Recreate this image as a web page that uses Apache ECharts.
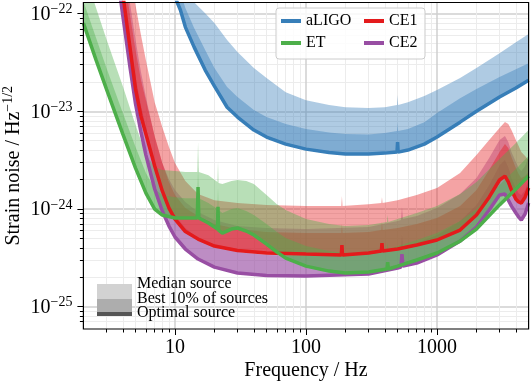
<!DOCTYPE html>
<html><head><meta charset="utf-8">
<script src="https://cdn.jsdelivr.net/npm/echarts@6/dist/echarts.min.js"></script>
<style>html,body{margin:0;padding:0;background:#fff}#c{width:532px;height:385px}</style>
</head><body><div id="c"></div>
<script>
const FONT = 'Liberation Serif';

// ---- data (frequency in Hz, strain noise in Hz^-1/2) ----
const aligoFreq = [9.5, 10, 11, 12, 14, 17, 20, 25, 30, 40, 50, 70, 100, 150, 200, 300, 400, 495, 500, 505, 600, 800, 1000, 1500, 2000, 3000, 4000, 5000];
const aligoOptimal = [1.96e-22, 1.48e-22, 1.09e-22, 7.28e-23, 4.54e-23, 2.64e-23, 1.81e-23, 1.10e-23, 8.72e-24, 6.43e-24, 5.45e-24, 4.61e-24, 4.10e-24, 3.78e-24, 3.65e-24, 3.65e-24, 3.73e-24, 3.82e-24, 4.84e-24, 3.82e-24, 4.01e-24, 4.61e-24, 5.45e-24, 7.74e-24, 1.00e-23, 1.40e-23, 1.73e-23, 2.08e-23];
const aligoBest10 = [3.53e-22, 2.48e-22, 1.66e-22, 1.14e-22, 7.11e-23, 4.23e-23, 2.77e-23, 1.77e-23, 1.40e-23, 1.03e-23, 8.73e-24, 7.40e-24, 6.58e-24, 6.06e-24, 5.85e-24, 5.78e-24, 5.98e-24, 6.27e-24, 7.6e-24, 6.27e-24, 6.58e-24, 7.74e-24, 9.59e-24, 1.36e-23, 1.69e-23, 2.24e-23, 2.70e-23, 3.11e-23];
const aligoMedian = [9.06e-22, 6.35e-22, 3.97e-22, 2.48e-22, 1.31e-22, 1.01e-22, 8.0e-23, 5.36e-23, 4.04e-23, 2.77e-23, 2.19e-23, 1.57e-23, 1.30e-23, 1.16e-23, 1.10e-23, 1.08e-23, 1.10e-23, 1.16e-23, 1.47e-23, 1.16e-23, 1.24e-23, 1.43e-23, 1.65e-23, 2.19e-23, 2.77e-23, 3.94e-23, 5.10e-23, 6.17e-23];

const etFreq = [2, 2.5, 3, 4, 5, 6, 7, 8, 10, 12, 14.8, 15, 15.2, 18, 21.1, 21.3, 21.5, 23, 27, 30, 35, 40, 50, 60, 70, 100, 150, 200, 300, 415, 420, 425, 500, 700, 1000, 1500, 2000, 3000, 4000, 5000];
const etOptimal = [8.0e-23, 3.34e-23, 1.69e-23, 5.84e-24, 2.62e-24, 1.45e-24, 9.98e-25, 8.66e-25, 8.07e-25, 8.07e-25, 8.07e-25, 1.68e-24, 8.07e-25, 7.17e-25, 6.23e-25, 1.05e-24, 6.08e-25, 5.67e-25, 6.23e-25, 6.38e-25, 5.94e-25, 5.41e-25, 4.37e-25, 3.62e-25, 3.14e-25, 2.60e-25, 2.31e-25, 2.21e-25, 2.26e-25, 2.43e-25, 2.86e-25, 2.43e-25, 2.60e-25, 3.00e-25, 3.54e-25, 4.69e-25, 6.23e-25, 1.10e-24, 1.60e-24, 2.17e-24];
const etBest10 = [1.34e-22, 5.62e-23, 2.77e-23, 9.58e-24, 4.30e-24, 2.33e-24, 1.60e-24, 1.39e-24, 1.32e-24, 1.29e-24, 1.29e-24, 2.69e-24, 1.29e-24, 1.15e-24, 9.98e-25, 1.68e-24, 9.75e-25, 9.08e-25, 9.98e-25, 1.02e-24, 9.52e-25, 8.66e-25, 7.01e-25, 5.80e-25, 5.04e-25, 4.17e-25, 3.71e-25, 3.54e-25, 3.62e-25, 3.89e-25, 4.59e-25, 3.89e-25, 4.17e-25, 4.81e-25, 5.67e-25, 7.52e-25, 9.98e-25, 1.76e-24, 2.56e-24, 3.48e-24];
const etMedian = [2.92e-22, 1.14e-22, 5.48e-23, 1.81e-23, 7.22e-24, 3.56e-24, 2.69e-24, 2.50e-24, 2.44e-24, 2.39e-24, 2.39e-24, 4.84e-24, 2.39e-24, 2.22e-24, 1.89e-24, 3.09e-24, 1.84e-24, 1.80e-24, 1.93e-24, 1.98e-24, 1.93e-24, 1.80e-24, 1.39e-24, 1.12e-24, 9.75e-25, 7.88e-25, 7.01e-25, 6.68e-25, 6.84e-25, 7.35e-25, 8.66e-25, 7.35e-25, 7.88e-25, 9.08e-25, 1.07e-24, 1.42e-24, 1.89e-24, 3.24e-24, 4.73e-24, 6.42e-24];

const ce1Freq = [4, 4.5, 5, 5.5, 6, 7, 8, 9, 10, 12, 15, 20, 30, 50, 100, 186, 188, 190, 300, 376, 380, 384, 500, 700, 1000, 1500, 2000, 2500, 3000, 3300, 3500, 3700, 4000, 4200, 4400, 4700, 5000];
const ce1Optimal = [1.58e-22, 4.87e-23, 1.69e-23, 8.93e-24, 5.84e-24, 2.75e-24, 1.53e-24, 1.02e-24, 7.88e-25, 5.87e-25, 4.92e-25, 4.17e-25, 3.75e-25, 3.54e-25, 3.45e-25, 3.38e-25, 4.27e-25, 3.38e-25, 3.54e-25, 3.71e-25, 4.48e-25, 3.71e-25, 3.89e-25, 4.27e-25, 4.81e-25, 6.08e-25, 8.66e-25, 1.32e-24, 1.98e-24, 2.17e-24, 1.89e-24, 1.56e-24, 1.26e-24, 1.18e-24, 1.15e-24, 1.32e-24, 1.64e-24];
const ce1Best10 = [3.14e-22, 1.04e-22, 4.23e-23, 2.09e-23, 1.30e-23, 5.57e-24, 2.95e-24, 1.89e-24, 1.39e-24, 1.02e-24, 8.46e-25, 7.01e-25, 6.23e-25, 5.80e-25, 5.67e-25, 5.67e-25, 7.01e-25, 5.67e-25, 5.80e-25, 6.08e-25, 7.35e-25, 6.08e-25, 6.38e-25, 7.01e-25, 8.07e-25, 1.07e-24, 1.56e-24, 2.50e-24, 3.82e-24, 4.62e-24, 4.20e-24, 3.40e-24, 2.62e-24, 2.28e-24, 2.07e-24, 2.17e-24, 2.39e-24];
const ce1Median = [5.39e-22, 2.48e-22, 1.22e-22, 6.03e-23, 3.34e-23, 1.24e-23, 6.89e-24, 4.30e-24, 2.95e-24, 1.93e-24, 1.42e-24, 1.23e-24, 1.15e-24, 1.10e-24, 1.07e-24, 1.07e-24, 1.36e-24, 1.07e-24, 1.12e-24, 1.15e-24, 1.32e-24, 1.15e-24, 1.23e-24, 1.39e-24, 1.64e-24, 2.33e-24, 3.56e-24, 5.07e-24, 6.73e-24, 7.75e-24, 7.40e-24, 6.42e-24, 5.07e-24, 4.40e-24, 3.82e-24, 3.48e-24, 3.17e-24];

const ce2Freq = [3.7, 4, 4.5, 5, 5.5, 6, 7, 8, 9, 10, 12, 15, 20, 30, 50, 100, 300, 500, 530, 540, 550, 700, 1000, 1500, 2000, 2500, 3000, 3300, 3500, 3700, 4000, 4200, 4400, 4700, 5000];
const ce2Optimal = [2.05e-22, 9.43e-23, 3.04e-23, 1.19e-23, 6.13e-24, 3.56e-24, 1.60e-24, 9.52e-25, 6.68e-25, 5.16e-25, 3.89e-25, 3.07e-25, 2.54e-25, 2.21e-25, 2.08e-25, 2.06e-25, 2.16e-25, 2.48e-25, 2.54e-25, 3.45e-25, 2.60e-25, 2.79e-25, 3.38e-25, 4.69e-25, 6.53e-25, 9.75e-25, 1.39e-24, 1.42e-24, 1.23e-24, 1.07e-24, 9.08e-25, 8.26e-25, 7.70e-25, 8.87e-25, 1.15e-24];
const ce2Best10 = [3.97e-22, 1.82e-22, 5.88e-23, 2.29e-23, 1.16e-23, 6.89e-24, 2.95e-24, 1.64e-24, 1.12e-24, 8.66e-25, 6.38e-25, 5.04e-25, 4.17e-25, 3.62e-25, 3.38e-25, 3.30e-25, 3.45e-25, 3.98e-25, 4.08e-25, 5.54e-25, 4.17e-25, 4.48e-25, 5.41e-25, 7.52e-25, 1.10e-24, 1.76e-24, 2.81e-24, 3.17e-24, 2.69e-24, 2.07e-24, 1.64e-24, 1.45e-24, 1.39e-24, 1.56e-24, 1.98e-24];
const ce2Median = [8.64e-22, 3.97e-22, 1.37e-22, 5.36e-23, 2.52e-23, 1.40e-23, 5.45e-24, 2.95e-24, 2.02e-24, 1.56e-24, 1.18e-24, 9.30e-25, 7.70e-25, 6.68e-25, 6.38e-25, 6.23e-25, 6.53e-25, 7.52e-25, 7.70e-25, 1.05e-24, 7.88e-25, 8.46e-25, 1.02e-24, 1.42e-24, 2.07e-24, 3.32e-24, 5.07e-24, 5.57e-24, 4.84e-24, 3.82e-24, 3.02e-24, 2.62e-24, 2.44e-24, 2.75e-24, 3.48e-24];

const xMajorTicks = [10, 100, 1000];
const xMinorTicks = [3, 4, 5, 6, 7, 8, 9, 20, 30, 40, 50, 60, 70, 80, 90, 200, 300, 400, 500, 600, 700, 800, 900, 2000, 3000, 4000];
const yMajorTicks = [1e-25, 1e-24, 1e-23, 1e-22];
const yMinorTicks = [7e-26, 8e-26, 9e-26, 2e-25, 3e-25, 4e-25, 5e-25, 6e-25, 7e-25, 8e-25, 9e-25, 2e-24, 3e-24, 4e-24, 5e-24, 6e-24, 7e-24, 8e-24, 9e-24, 2e-23, 3e-23, 4e-23, 5e-23, 6e-23, 7e-23, 8e-23, 9e-23];
const yRange = [5.9e-26, 1.3e-22];

const legendLabels = ['Median source', 'Best 10% of sources', 'Optimal source'];

// ---- chart ----
// ECharts rounds numbers to 20 decimals internally, so values are plotted in units of 1e-25 Hz^-1/2
const UNIT_EXP = -25;
const SCALE = Math.pow(10, -UNIT_EXP);
const sc = v => v * SCALE;

function rgba(hex, a) {
  const n = parseInt(hex.slice(1), 16);
  return 'rgba(' + (n >> 16) + ',' + ((n >> 8) & 255) + ',' + (n & 255) + ',' + a + ')';
}
const detectors = [
  {name: 'aLIGO', color: '#377eb8', f: aligoFreq, opt: aligoOptimal, b10: aligoBest10, med: aligoMedian},
  {name: 'CE2', color: '#984ea3', f: ce2Freq, opt: ce2Optimal, b10: ce2Best10, med: ce2Median},
  {name: 'CE1', color: '#e41a1c', f: ce1Freq, opt: ce1Optimal, b10: ce1Best10, med: ce1Median},
  {name: 'ET', color: '#4daf4a', f: etFreq, opt: etOptimal, b10: etBest10, med: etMedian}
];

// band between two curves, drawn as one polygon through the axes' own scales
function bandRender(params, api) {
  if (params.dataIndexInside !== 0) return null;
  const n = params.dataInsideLength;
  const lower = [], upper = [];
  for (let i = 0; i < n; i++) {
    const x = api.value(0, i);
    lower.push(api.coord([x, api.value(1, i)]));
    upper.push(api.coord([x, api.value(2, i)]));
  }
  const cs = params.coordSys;
  return {
    type: 'polygon',
    shape: {points: lower.concat(upper.reverse())},
    style: {fill: api.visual('color'), stroke: null},
    clipPath: {type: 'rect', shape: {x: cs.x, y: cs.y, width: cs.width, height: cs.height}},
    silent: true
  };
}

const series = [];
detectors.forEach(d => {
  const base = d.f.map((x, i) => [x, sc(d.opt[i])]);
  const band = upperArr => ({
    type: 'custom', silent: true, renderItem: bandRender, xAxisIndex: 0, yAxisIndex: 0,
    itemStyle: {color: rgba(d.color, 0.4)},
    encode: {x: 0, y: [1, 2]},
    data: d.f.map((x, i) => [x, sc(d.opt[i]), sc(upperArr[i])])
  });
  series.push(Object.assign(band(d.med), {name: d.name + ' median'}));
  series.push(Object.assign(band(d.b10), {name: d.name + ' best10'}));
  series.push({type: 'line', name: d.name, data: base, symbol: 'none', silent: true, emphasis: {disabled: true},
    color: d.color, itemStyle: {color: d.color}, lineStyle: {color: d.color, width: 3.5}});
});

const GRID = {left: 83.4, right: 3.4, top: 2.5, bottom: 56};
const W = 532, H = 385;
const gw = W - GRID.left - GRID.right, gh = H - GRID.top - GRID.bottom;
const tickStyle = {color: '#000', width: 1};
const labelStyle = {fontFamily: FONT, fontSize: 20, color: '#000'};
const supRich = {
  b: {fontFamily: FONT, fontSize: 20, color: '#000', lineHeight: 22, verticalAlign: 'bottom'},
  s: {fontFamily: FONT, fontSize: 14, color: '#000', lineHeight: 14, verticalAlign: 'top'}
};

const option = {
  animation: false,
  textStyle: {fontFamily: FONT},
  grid: {left: GRID.left, right: GRID.right, top: GRID.top, bottom: GRID.bottom, containLabel: false, outerBoundsMode: 'none', show: false},
  xAxis: [
    {type: 'log', logBase: 10, min: 2, max: 5000, position: 'bottom',
     axisLine: {show: false},
     axisTick: {show: true, inside: false, length: 6, lineStyle: tickStyle, customValues: xMajorTicks},
     axisLabel: Object.assign({customValues: xMajorTicks, margin: 9, formatter: v => String(Math.round(v))}, labelStyle),
     splitLine: {show: true, lineStyle: {color: '#cfcfcf', width: 1.5}},
     minorTick: {show: false}, minorSplitLine: {show: false},
     name: 'Frequency / Hz', nameLocation: 'middle', nameGap: 32, nameMoveOverlap: false,
     nameTextStyle: {fontFamily: FONT, fontSize: 20, color: '#000'}},
    {type: 'log', logBase: 10, min: 2, max: 5000, position: 'bottom',
     axisLine: {show: false},
     axisTick: {show: true, inside: false, length: 3.5, lineStyle: tickStyle, customValues: xMinorTicks},
     axisLabel: {show: false},
     splitLine: {show: true, lineStyle: {color: '#ececec', width: 1}}}
  ],
  yAxis: [
    {type: 'log', logBase: 10, min: sc(yRange[0]), max: sc(yRange[1]), position: 'left',
     axisLine: {show: false},
     axisTick: {show: true, inside: false, length: 6, lineStyle: tickStyle, customValues: yMajorTicks.map(sc)},
     axisLabel: {customValues: yMajorTicks.map(sc), margin: 11,
       formatter: v => '{b|10}{s|\u2212' + (-(Math.round(Math.log10(v)) + UNIT_EXP)) + '}',
       rich: supRich},
     splitLine: {show: true, lineStyle: {color: '#cfcfcf', width: 1.5}},
     minorTick: {show: false}, minorSplitLine: {show: false},
     name: '{b|Strain noise / Hz}{s|\u22121/2}', nameLocation: 'middle', nameGap: 60, nameMoveOverlap: false,
     nameTextStyle: {rich: supRich}},
    {type: 'log', logBase: 10, min: sc(yRange[0]), max: sc(yRange[1]), position: 'left',
     axisLine: {show: false},
     axisTick: {show: true, inside: false, length: 3.5, lineStyle: tickStyle, customValues: yMinorTicks.map(sc)},
     axisLabel: {show: false},
     splitLine: {show: true, lineStyle: {color: '#ececec', width: 1}}}
  ],
  legend: [
    {data: [{name: 'aLIGO', itemStyle: {color: '#377eb8'}}, {name: 'ET', itemStyle: {color: '#4daf4a'}}],
     orient: 'vertical', left: 281, top: 12, padding: 0, itemGap: 4, itemWidth: 20, itemHeight: 4, icon: 'rect',
     selectedMode: false, z: 120,
     textStyle: {fontFamily: FONT, fontSize: 16, color: '#000', lineHeight: 18}},
    {data: [{name: 'CE1', itemStyle: {color: '#e41a1c'}}, {name: 'CE2', itemStyle: {color: '#984ea3'}}],
     orient: 'vertical', left: 364, top: 12, padding: 0, itemGap: 4, itemWidth: 20, itemHeight: 4, icon: 'rect',
     selectedMode: false, z: 120,
     textStyle: {fontFamily: FONT, fontSize: 16, color: '#000', lineHeight: 18}}
  ],
  graphic: [
    {type: 'rect', z: 100, silent: true, shape: {x: GRID.left, y: GRID.top, width: gw, height: gh},
     style: {fill: 'none', stroke: '#000', lineWidth: 1.2}},
    {type: 'rect', z: 110, silent: true, shape: {x: 276, y: 8, width: 149, height: 51, r: 3},
     style: {fill: 'rgba(255,255,255,0.85)', stroke: '#cccccc', lineWidth: 1}},
    {type: 'rect', z: 110, silent: true, shape: {x: 97, y: 284, width: 35, height: 15}, style: {fill: '#d2d2d2'}},
    {type: 'rect', z: 110, silent: true, shape: {x: 97, y: 299, width: 35, height: 13}, style: {fill: '#adadad'}},
    {type: 'rect', z: 110, silent: true, shape: {x: 97, y: 312, width: 35, height: 4}, style: {fill: '#555555'}},
    {type: 'text', z: 110, silent: true, x: 137, y: 284, style: {text: legendLabels[0], fontFamily: FONT, fontSize: 16, fill: '#000', verticalAlign: 'middle', align: 'left'}},
    {type: 'text', z: 110, silent: true, x: 137, y: 298.5, style: {text: legendLabels[1], fontFamily: FONT, fontSize: 16, fill: '#000', verticalAlign: 'middle', align: 'left'}},
    {type: 'text', z: 110, silent: true, x: 137, y: 313, style: {text: legendLabels[2], fontFamily: FONT, fontSize: 16, fill: '#000', verticalAlign: 'middle', align: 'left'}}
  ],
  series: series
};
const chart = echarts.init(document.getElementById('c'), null, {renderer: 'canvas', width: W, height: H});
chart.setOption(option);
</script>
</body></html>
